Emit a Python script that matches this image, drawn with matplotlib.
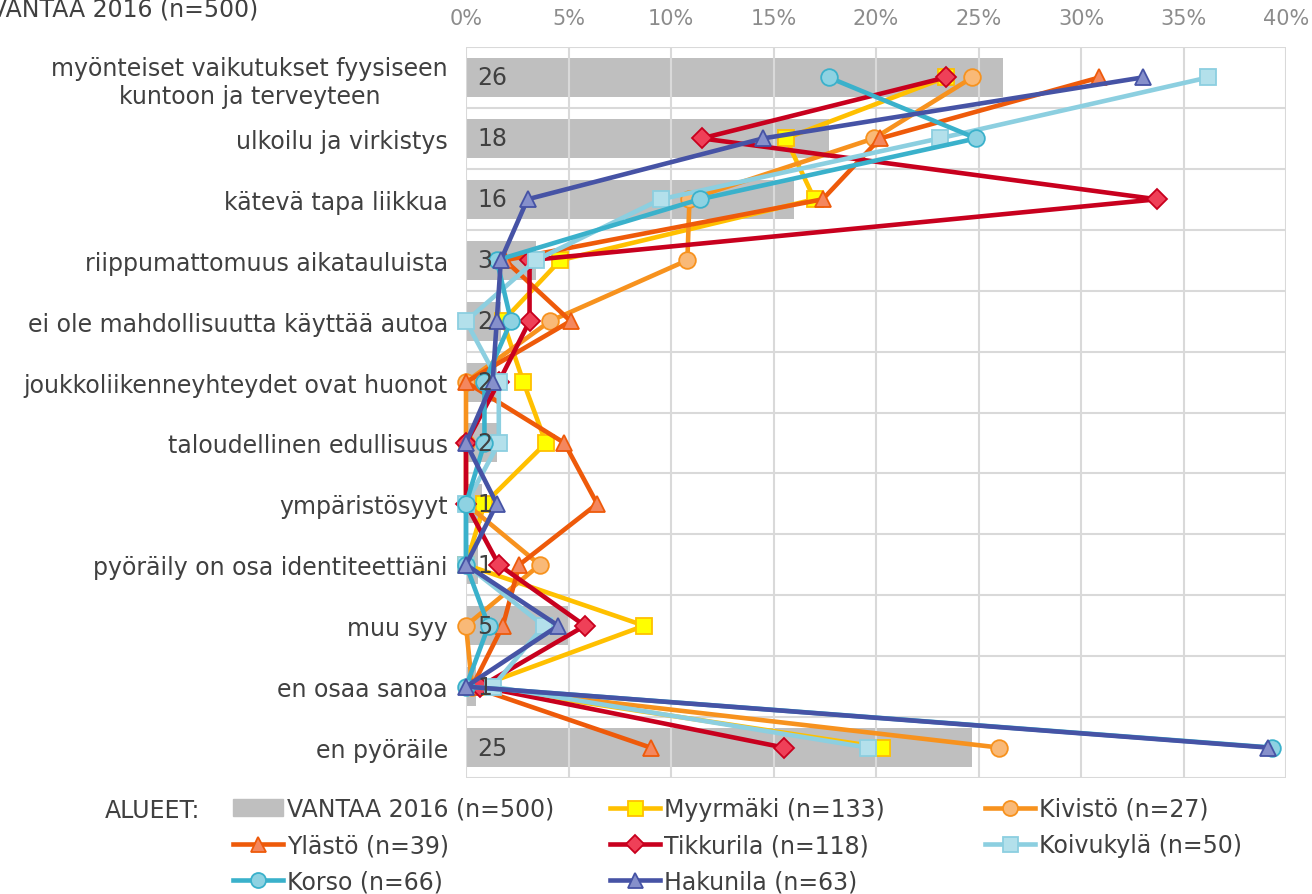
import numpy as np
import matplotlib.pyplot as plt
from matplotlib.patches import Patch

# kategoriat (ylhaalta alas)
categories = ["myönteiset vaikutukset fyysiseen\nkuntoon ja terveyteen",
              "ulkoilu ja virkistys",
              "kätevä tapa liikkua",
              "riippumattomuus aikatauluista",
              "ei ole mahdollisuutta käyttää autoa",
              "joukkoliikenneyhteydet ovat huonot",
              "taloudellinen edullisuus",
              "ympäristösyyt",
              "pyöräily on osa identiteettiäni",
              "muu syy",
              "en osaa sanoa",
              "en pyöräile"]

vantaa = [26.2, 17.7, 16.0, 3.4, 1.7, 1.5, 1.5, 0.8, 0.6, 5.0, 0.5, 24.7]
vantaa_labels = [26, 18, 16, 3, 2, 2, 2, 1, 1, 5, 1, 25]

myyrmaki = [23.4, 15.6, 17.0, 4.6, 1.8, 2.8, 3.9, 0.9, 0.0, 8.7, 0.6, 20.3]
kivisto = [24.7, 19.9, 10.9, 10.8, 4.1, 0.0, 0.0, 0.0, 3.6, 0.0, 0.3, 26.0]
ylasto = [30.9, 20.2, 17.4, 1.9, 5.1, 0.0, 4.8, 6.4, 2.6, 1.8, 0.3, 9.0]
tikkurila = [23.4, 11.5, 33.7, 3.1, 3.1, 1.6, 0.0, 0.0, 1.6, 5.8, 0.7, 15.5]
koivukyla = [36.2, 23.1, 9.5, 3.4, 0.0, 1.6, 1.6, 0.0, 0.0, 3.8, 1.3, 19.6]
korso = [17.7, 24.9, 11.4, 1.5, 2.2, 0.9, 0.9, 0.0, 0.0, 1.1, 0.0, 39.3]
hakunila = [33.0, 14.5, 3.0, 1.7, 1.5, 1.3, 0.0, 1.5, 0.0, 4.5, 0.0, 39.1]

# (nimi, arvot, viivan vari, merkin tayttö, merkki)
series = [
    ("Myyrmäki (n=133)", myyrmaki, "#FFC000", "#FFFF00", "s"),
    ("Kivistö (n=27)", kivisto, "#F7921E", "#F9B977", "o"),
    ("Ylästö (n=39)", ylasto, "#EE5A0A", "#F4875E", "^"),
    ("Tikkurila (n=118)", tikkurila, "#C8001E", "#EF4058", "D"),
    ("Koivukylä (n=50)", koivukyla, "#8CCFE0", "#B3E0EB", "s"),
    ("Korso (n=66)", korso, "#3AB1CB", "#8ED2E2", "o"),
    ("Hakunila (n=63)", hakunila, "#4653A5", "#8690CB", "^"),
]

txt = "#404040"
grid_c = "#D9D9D9"
fs = 17

fig = plt.figure(figsize=(13.12, 8.95), dpi=100)
ax = fig.add_axes([466 / 1312, 1 - 779 / 895, 820 / 1312, 731 / 895])

y = np.arange(len(categories))
ax.barh(y, vantaa, height=0.64, color="#BFBFBF", zorder=1)
for i, v in enumerate(vantaa_labels):
    ax.text(0.55, i, str(v), ha="left", va="center", fontsize=fs, color=txt, zorder=20)

handles = {}
for name, vals, lc, fc, mk in series:
    ms = 10 if mk == "D" else 12
    ln, = ax.plot(vals, y, color=lc, lw=3.3, marker=mk, ms=ms, mfc=fc, mec=lc, mew=1.3,
                  zorder=5, clip_on=False)
    handles[name] = ln

ax.set_xlim(0, 40)
ax.set_ylim(11.5, -0.5)
ax.set_xticks(np.arange(0, 41, 5))
ax.set_xticklabels([f"{v}%" for v in range(0, 41, 5)])
ax.xaxis.tick_top()
ax.tick_params(axis="x", length=0, pad=14, labelsize=15, labelcolor="#8C8C8C")
ax.set_yticks(y)
ax.set_yticklabels(categories, multialignment="center")
ax.tick_params(axis="y", length=0, pad=13, labelsize=fs, labelcolor=txt)
ax.grid(axis="x", color=grid_c, lw=1.5, zorder=0)
for b in np.arange(-0.5, 12, 1.0):
    ax.axhline(b, color=grid_c, lw=1.5, zorder=0)
for s in ax.spines.values():
    s.set_visible(False)

fig.text(258 / 1312, 1 - 10 / 895, "VANTAA 2016 (n=500)", ha="right", va="center",
         fontsize=fs, color=txt)

# selite kolmena sarakkeena
fig.text(105 / 1312, 1 - 811 / 895, "ALUEET:", ha="left", va="center", fontsize=fs, color=txt)
bar_h = Patch(color="#BFBFBF")
cols = [
    (233, [bar_h, handles["Ylästö (n=39)"], handles["Korso (n=66)"]],
     ["VANTAA 2016 (n=500)", "Ylästö (n=39)", "Korso (n=66)"]),
    (610, [handles["Myyrmäki (n=133)"], handles["Tikkurila (n=118)"], handles["Hakunila (n=63)"]],
     ["Myyrmäki (n=133)", "Tikkurila (n=118)", "Hakunila (n=63)"]),
    (985, [handles["Kivistö (n=27)"], handles["Koivukylä (n=50)"]],
     ["Kivistö (n=27)", "Koivukylä (n=50)"]),
]
for x0, hs, ls in cols:
    fig.legend(hs, ls, loc="upper left", bbox_to_anchor=(x0 / 1312, 1 - 798 / 895),
               frameon=False, fontsize=fs, labelcolor=txt, handlelength=2.1,
               handletextpad=0.2, labelspacing=0.52, borderpad=0, borderaxespad=0,
               markerscale=0.9)

fig.savefig("out.png", dpi=100)
